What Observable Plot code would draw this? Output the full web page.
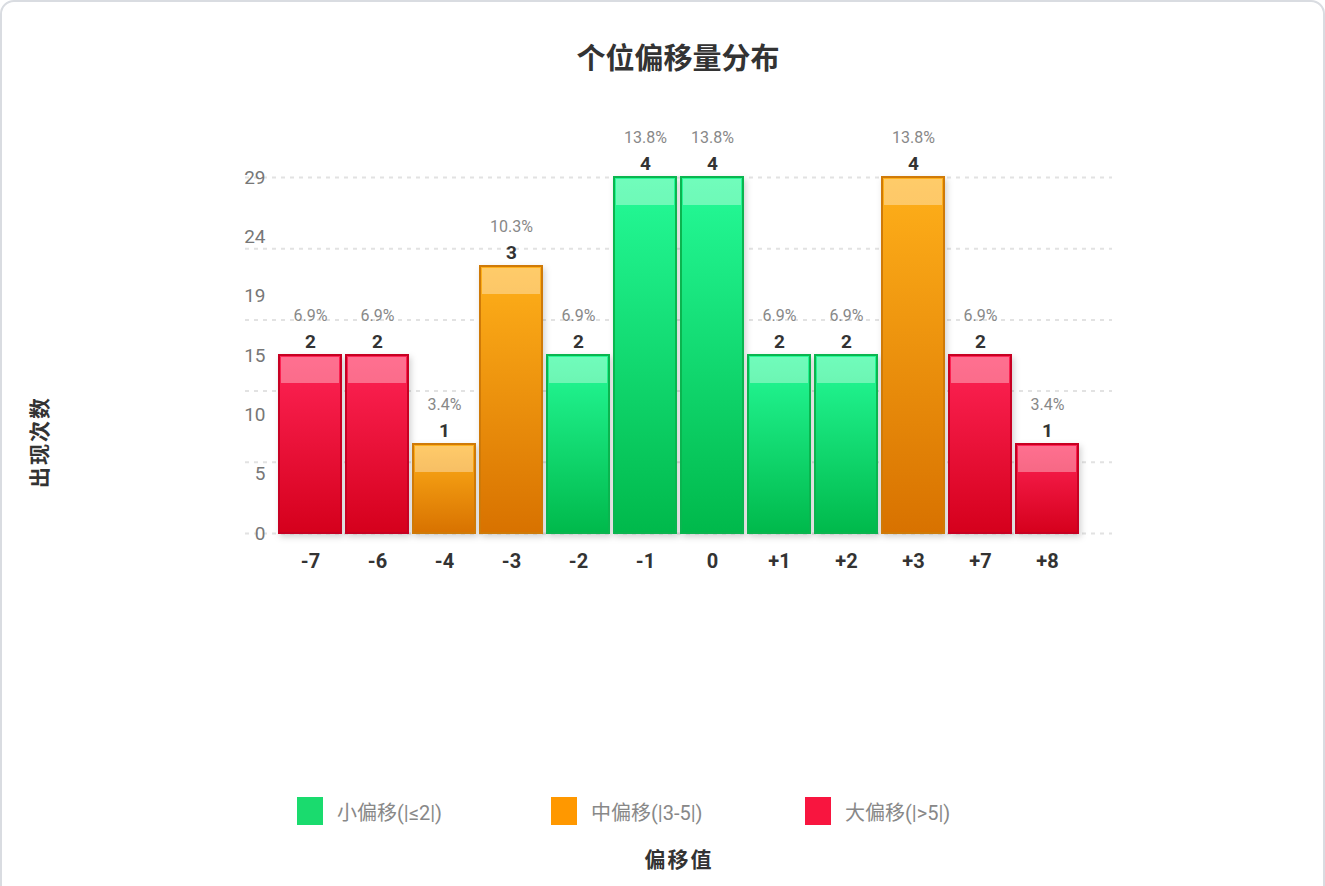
<!DOCTYPE html>
<html><head><meta charset="utf-8">
<script src="https://cdn.jsdelivr.net/npm/d3@7"></script>
<script src="https://cdn.jsdelivr.net/npm/@observablehq/plot@0.6"></script>
<style>
body{margin:0;background:#fff;font-family:Roboto,"Noto Sans CJK SC",sans-serif;width:1325px;height:886px;overflow:hidden;position:relative}
#card{position:absolute;left:0;top:0;width:1321px;height:930px;border:2px solid #d9dce1;border-radius:14px;box-sizing:content-box}
#title{position:absolute;left:0;width:1356px;top:36px;text-align:center;font:bold 29px "Noto Sans CJK SC";color:#333;line-height:40px}
#chart{position:absolute;left:0;top:100px}
#ylabel{position:absolute;left:38px;top:442px;transform:translate(-50%,-50%) rotate(-90deg);font:bold 21px "Noto Sans CJK SC";letter-spacing:2px;color:#333;white-space:nowrap}
#xlabel{position:absolute;left:1px;width:1356px;top:844px;text-align:center;font:bold 21px "Noto Sans CJK SC";letter-spacing:2px;color:#333;line-height:28px}
.leg{position:absolute;top:797px;height:28px;display:flex;align-items:center;font:20px Roboto,"Noto Sans CJK SC";color:#888;white-space:nowrap}
.leg span.sw{display:inline-block;width:26px;height:28px;margin-right:14px}
g.bars{filter:drop-shadow(2px 3px 3px rgba(0,0,0,0.18))}
</style></head>
<body>
<div id="card"></div>
<div id="title">个位偏移量分布</div>
<div id="chart"></div>
<div id="ylabel">出现次数</div>
<div id="legend"></div>
<div id="xlabel">偏移值</div>
<script>
// ---- data ----
const offsets = ["-7","-6","-4","-3","-2","-1","0","+1","+2","+3","+7","+8"];
const counts = [2,2,1,3,2,4,4,2,2,4,2,1];
const groups = ["large","large","medium","medium","small","small","small","small","small","medium","large","large"];
const pctLabels = ["6.9%","6.9%","3.4%","10.3%","6.9%","13.8%","13.8%","6.9%","6.9%","13.8%","6.9%","3.4%"];
const yTickLabels = ["0","5","10","15","19","24","29"];
const yMax = 4;
const groupKeys = ["small","medium","large"];
const legendLabels = ["小偏移(|≤2|)","中偏移(|3-5|)","大偏移(|>5|)"];
const legendColors = ["#1adb6e","#ff9800","#f8153f"];
const gradTop = {small:"#25fb98", medium:"#ffb01a", large:"#ff2456"};
const gradBottom = {small:"#00b94b", medium:"#d87200", large:"#d5001c"};
const strokeColors = {small:"#0ab54f", medium:"#cf7a08", large:"#c70022"};

const data = offsets.map((o,i)=>({offset:o, count:counts[i], group:groups[i], pct:pctLabels[i]}));
const yTickVals = d3.range(yTickLabels.length).map(i => i*yMax/(yTickLabels.length-1));
const gridVals = d3.range(6).map(i => i*yMax/5);

const W = 1325, H = 500;
const plot = Plot.plot({
  width: W, height: H,
  marginLeft: 245, marginRight: 213, marginTop: 77, marginBottom: 67,
  style: {fontFamily: "Roboto, 'Noto Sans CJK SC', sans-serif", background: "transparent"},
  x: {domain: offsets, padding: 0.08, insetLeft: 25, insetRight: 26, label: null},
  y: {domain: [0, yMax], label: null},
  marks: [
    Plot.ruleY(gridVals, {stroke: "#e2e2e2", strokeWidth: 2, strokeDasharray: "4,5"}),
    Plot.axisY({ticks: yTickVals, tickFormat: d => yTickLabels[Math.round(d*(yTickLabels.length-1)/yMax)], tickSize: 0, tickPadding: 0, dx: 20, fontSize: 19, color: "#777", label: null}),
    Plot.axisX({tickSize: 0, tickPadding: 20, fontSize: 20, fontWeight: "bold", color: "#333", label: null}),
    Plot.barY(data, {x: "offset", y: "count", fill: d => `url(#grad-${d.group})`, stroke: d => strokeColors[d.group], strokeWidth: 2, className: "bars"}),
    Plot.barY(data, {x: "offset", y1: "count", y2: "count", insetTop: 2, insetBottom: -28, insetLeft: 2, insetRight: 2, fill: "white", fillOpacity: 0.35}),
    Plot.text(data, {x: "offset", y: "count", text: d => String(d.count), dy: -14, fontSize: 19, fontWeight: "bold", fill: "#333"}),
    Plot.text(data, {x: "offset", y: "count", text: "pct", dy: -40, fontSize: 16, fill: "#888"})
  ]
});
document.getElementById("chart").appendChild(plot);
const svg = d3.select(plot.tagName.toLowerCase() === "svg" ? plot : plot.querySelector("svg"));
const defs = svg.insert("defs", ":first-child");
for (const g of groupKeys) {
  const lg = defs.append("linearGradient").attr("id", `grad-${g}`).attr("x1", 0).attr("y1", 0).attr("x2", 0).attr("y2", 1);
  lg.append("stop").attr("offset", "0%").attr("stop-color", gradTop[g]);
  lg.append("stop").attr("offset", "100%").attr("stop-color", gradBottom[g]);
}

// legend
const leg = document.getElementById("legend");
const legX = [297, 551, 805];
legendLabels.forEach((t,i)=>{
  const d = document.createElement("div");
  d.className = "leg";
  d.style.left = legX[i] + "px";
  d.innerHTML = `<span class="sw" style="background:${legendColors[i]}"></span><span>${t}</span>`;
  leg.appendChild(d);
});
</script>
</body></html>
